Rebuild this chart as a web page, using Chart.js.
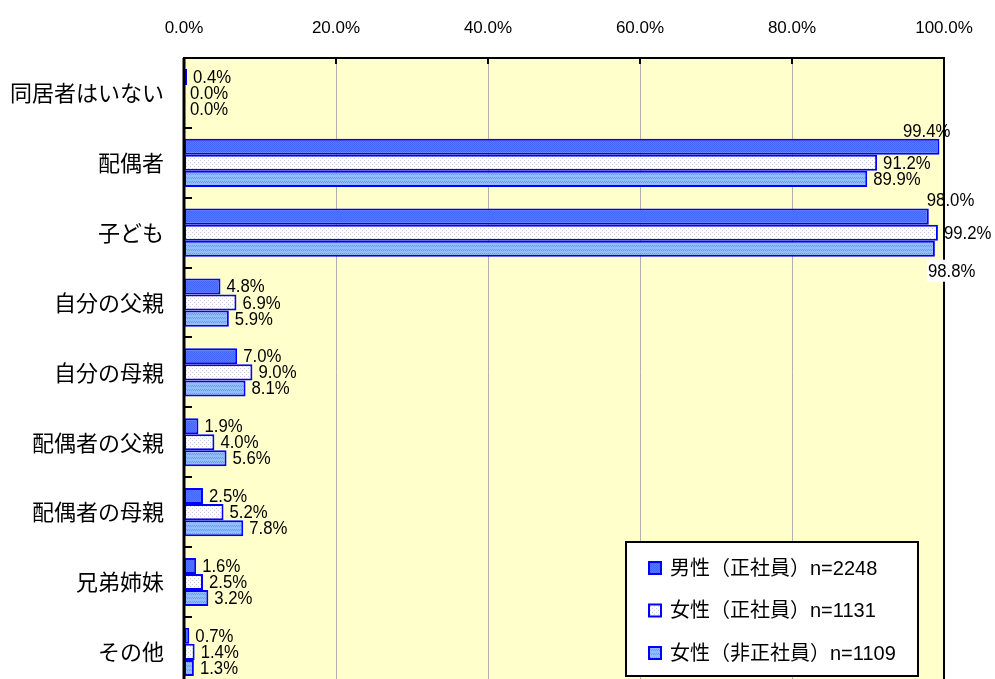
<!DOCTYPE html>
<html>
<head>
<meta charset="utf-8">
<script src="https://cdn.jsdelivr.net/npm/chart.js@4"></script>
<style>
  html, body { margin: 0; padding: 0; background: #fff; overflow: hidden; }
  #wrap { width: 995px; height: 720px; }
</style>
</head>
<body>
<div id="wrap"><canvas id="cohabit-bar" width="995" height="720"></canvas></div>
<script>
const categories = ['同居者はいない', '配偶者', '子ども', '自分の父親', '自分の母親', '配偶者の父親', '配偶者の母親', '兄弟姉妹', 'その他'];
const seriesNames = ['男性（正社員）n=2248', '女性（正社員）n=1131', '女性（非正社員）n=1109'];
const maleRegular = [0.4, 99.4, 98.0, 4.8, 7.0, 1.9, 2.5, 1.6, 0.7];
const femaleRegular = [0.0, 91.2, 99.2, 6.9, 9.0, 4.0, 5.2, 2.5, 1.4];
const femaleNonRegular = [0.0, 89.9, 98.8, 5.9, 8.1, 5.6, 7.8, 3.2, 1.3];
const xTicks = [0, 20, 40, 60, 80, 100];

const SANS = "'Liberation Sans', Arial, sans-serif";
const BLUE = '#0000ff';

// little fill patterns like the excel ones
function makePattern(size, draw) {
  const c = document.createElement('canvas');
  c.width = size; c.height = size;
  draw(c.getContext('2d'));
  return document.getElementById('cohabit-bar').getContext('2d').createPattern(c, 'repeat');
}
const pat1 = makePattern(2, g => {
  g.fillStyle = '#5279ff'; g.fillRect(0, 0, 2, 2);
  g.fillStyle = '#4266ff'; g.fillRect(0, 0, 1, 1); g.fillRect(1, 1, 1, 1);
});
const pat2 = makePattern(4, g => {
  g.fillStyle = '#ffffff'; g.fillRect(0, 0, 4, 4);
  g.fillStyle = '#c9c9ee'; g.fillRect(0, 0, 1, 1); g.fillRect(2, 2, 1, 1);
});
const pat3 = makePattern(4, g => {
  g.fillStyle = '#8fbdff'; g.fillRect(0, 0, 4, 4);
  g.fillStyle = '#6f98f2'; g.fillRect(0, 1, 1, 1); g.fillRect(2, 1, 1, 1);
  g.fillRect(1, 2, 1, 1); g.fillRect(3, 2, 1, 1);
});
const fills = [pat1, pat2, pat3];

// hand-placed labels near the right edge (as in the original sheet)
const labelMoves = {
  '0-1': { dx: 11, dy: -16, align: 'right' },
  '0-2': { dx: -2, dy: -17, align: 'left' },
  '2-2': { dx: -7, dy: 22, align: 'left', bg: true }
};

// narrow-ish text, the sheet used a condensed font
function narrowText(ctx, txt, x, y, align) {
  const sx = 0.93;
  const w = ctx.measureText(txt).width * sx;
  const left = align === 'right' ? x - w : x;
  ctx.save();
  ctx.translate(left, y);
  ctx.scale(sx, 1);
  ctx.textAlign = 'left';
  ctx.fillText(txt, 0, 0);
  ctx.restore();
  return w;
}

const framePlugin = {
  id: 'frame',
  beforeDatasetsDraw(chart) {
    const { ctx, chartArea: a } = chart;
    ctx.save();
    ctx.fillStyle = '#ffffcc';
    ctx.fillRect(a.left, a.top, a.right - a.left, a.bottom - a.top);
    const xs = chart.scales.x;
    ctx.strokeStyle = '#b0b0b0';
    ctx.lineWidth = 1;
    xTicks.slice(1, -1).forEach(t => {
      const px = Math.round(xs.getPixelForValue(t)) + 0.5;
      ctx.beginPath(); ctx.moveTo(px, a.top); ctx.lineTo(px, a.bottom); ctx.stroke();
    });
    ctx.restore();
  },
  afterDatasetsDraw(chart) {
    const { ctx, chartArea: a } = chart;
    const xs = chart.scales.x;
    ctx.save();
    ctx.strokeStyle = '#000';
    // frame
    ctx.lineWidth = 2;
    ctx.beginPath();
    ctx.moveTo(a.left, a.bottom); ctx.lineTo(a.left, a.top); ctx.lineTo(a.right, a.top); ctx.lineTo(a.right, a.bottom);
    ctx.stroke();
    ctx.lineWidth = 3;
    ctx.beginPath(); ctx.moveTo(a.left, a.top); ctx.lineTo(a.left, a.bottom); ctx.stroke();
    // inner tick marks
    ctx.lineWidth = 2;
    xTicks.slice(1, -1).forEach(t => {
      const px = Math.round(xs.getPixelForValue(t));
      ctx.beginPath(); ctx.moveTo(px, a.top); ctx.lineTo(px, a.top + 6); ctx.stroke();
    });
    const step = (a.bottom - a.top) / categories.length;
    for (let i = 1; i < categories.length; i++) {
      const py = Math.round(a.top + step * i);
      ctx.beginPath(); ctx.moveTo(a.left, py); ctx.lineTo(a.left + 8, py); ctx.stroke();
    }
    // value labels
    ctx.font = '18px ' + SANS;
    ctx.textBaseline = 'middle';
    chart.data.datasets.forEach((ds, di) => {
      chart.getDatasetMeta(di).data.forEach((bar, i) => {
        const txt = ds.data[i].toFixed(1) + '%';
        const mv = labelMoves[di + '-' + i];
        let x = bar.x + 6, y = bar.y, align = 'left';
        if (mv) { x = bar.x + mv.dx; y = bar.y + mv.dy; align = mv.align; }
        if (mv && mv.bg) {
          const w = ctx.measureText(txt).width * 0.93;
          ctx.fillStyle = '#fff';
          ctx.fillRect(x - 1, y - 11, w + 3, 22);
        }
        ctx.fillStyle = '#000';
        narrowText(ctx, txt, x, y + 1, align);
      });
    });
    // legend box
    const lx = 626, ly = 542, lw = 292, lh = 134;
    ctx.fillStyle = '#fff';
    ctx.fillRect(lx, ly, lw, lh);
    ctx.lineWidth = 2;
    ctx.strokeRect(lx, ly, lw, lh);
    ctx.font = "20px 'Liberation Sans', 'Noto Sans CJK JP', sans-serif";
    ctx.textAlign = 'left';
    seriesNames.forEach((name, k) => {
      const cy = 568 + k * 42.5;
      ctx.fillStyle = fills[k];
      ctx.fillRect(649, cy - 6, 12, 12);
      ctx.strokeStyle = BLUE;
      ctx.lineWidth = 2;
      ctx.strokeRect(649, cy - 6, 12, 12);
      ctx.fillStyle = '#000';
      ctx.fillText(name, 670, cy + 1);
    });
    ctx.restore();
  }
};

const ctx = document.getElementById('cohabit-bar').getContext('2d');
const cohabitChart = new Chart(ctx, {
  type: 'bar',
  plugins: [framePlugin],
  data: {
    labels: categories,
    datasets: [maleRegular, femaleRegular, femaleNonRegular].map((vals, k) => ({
      label: seriesNames[k],
      data: vals,
      backgroundColor: fills[k],
      borderColor: BLUE,
      borderWidth: 2,
      borderSkipped: false,
      categoryPercentage: 0.69,
      barPercentage: 1.0
    }))
  },
  options: {
    indexAxis: 'y',
    responsive: false,
    animation: false,
    layout: { padding: { left: 0, right: 51, top: 0, bottom: 12 } },
    plugins: {
      legend: { display: false },
      tooltip: { enabled: false }
    },
    scales: {
      x: {
        position: 'top',
        min: 0,
        max: 100,
        afterFit: s => { s.height = 58; },
        afterBuildTicks: s => { s.ticks = xTicks.map(v => ({ value: v })); },
        ticks: {
          color: '#000',
          font: { family: SANS, size: 17 },
          padding: 19,
          maxRotation: 0,
          callback: v => v.toFixed(1) + '%'
        },
        grid: { display: false, drawTicks: false },
        border: { display: false }
      },
      y: {
        afterFit: s => { s.width = 184; },
        ticks: {
          color: '#000',
          font: { family: "'Noto Sans CJK JP', sans-serif", size: 22 },
          padding: 20
        },
        grid: { display: false, drawTicks: false },
        border: { display: false }
      }
    }
  }
});
</script>
</body>
</html>
